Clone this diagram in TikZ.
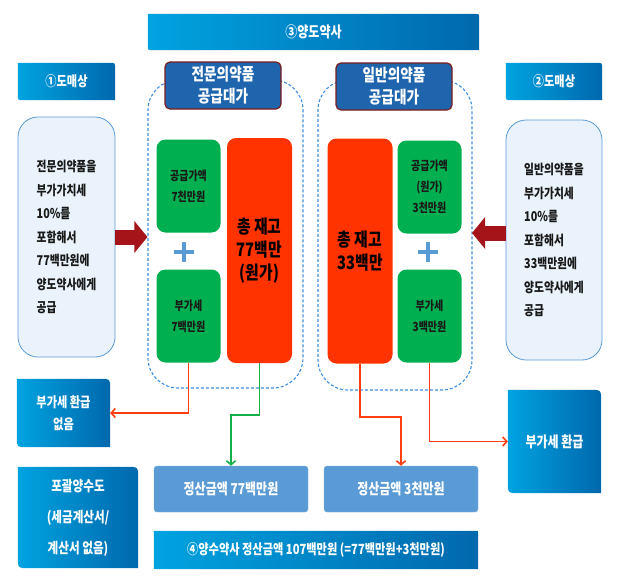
\documentclass[tikz,border=0pt]{standalone}
\usepackage{fontspec}
\setmainfont{Noto Sans CJK KR}[FakeStretch=0.8]
\usepackage{tikz}
\usetikzlibrary{arrows.meta,backgrounds}
\definecolor{gradleft}{RGB}{0, 163, 224}
\definecolor{gradright}{RGB}{0, 104, 173}
\definecolor{hdrblue}{RGB}{31, 101, 174}
\definecolor{hdrred}{RGB}{122, 28, 28}
\definecolor{zoneblue}{RGB}{61, 142, 224}
\definecolor{infofill}{RGB}{234, 242, 251}
\definecolor{infoline}{RGB}{91, 155, 213}
\definecolor{boxgreen}{RGB}{0, 176, 80}
\definecolor{boxred}{RGB}{255, 51, 0}
\definecolor{arrowred}{RGB}{165, 20, 25}
\definecolor{payblue}{RGB}{91, 155, 213}
\definecolor{linered}{RGB}{255, 61, 18}
\definecolor{linegreen}{RGB}{20, 176, 74}

\tikzset{
  gbox/.style={text=white, align=center, inner sep=0pt},
  hdr/.style={rectangle, rounded corners=5pt, draw=hdrred, line width=1.2pt, fill=hdrblue, text=white, font=\bfseries\fontsize{17}{22}\selectfont, align=center, inner sep=0pt, minimum width=116pt, minimum height=47pt},
  zone/.style={rectangle, rounded corners=30pt, draw=zoneblue, line width=1.1pt, dash pattern=on 3pt off 2pt},
  info/.style={rectangle, rounded corners=20pt, draw=infoline, fill=infofill, line width=0.8pt, minimum width=97pt, minimum height=240pt, align=left, text=black!90, font=\bfseries\fontsize{13.5}{23.5}\selectfont},
  price/.style={rectangle, rounded corners=9pt, fill=boxgreen, minimum width=64pt, minimum height=93pt, align=center, text=black!90, font=\bfseries\fontsize{12.5}{21}\selectfont},
  stock/.style={rectangle, rounded corners=9pt, fill=boxred, minimum width=65pt, minimum height=225pt, align=center, font=\bfseries\fontsize{18.5}{23}\selectfont},
  plus/.style={minimum size=20pt, inner sep=0pt},
  plusline/.style={payblue, line width=4pt},
  pay/.style={rectangle, rounded corners=3pt, fill=payblue, draw=payblue!80!white, text=white, minimum width=154pt, minimum height=46pt, font=\bfseries\fontsize{15}{18}\selectfont},
  gshade/.style={left color=gradleft, right color=gradright},
  bigarrow/.style={arrowred, line width=15pt, -{Triangle[length=13pt, width=31pt]}},
  flow/.style={line width=1.6pt, -{Straight Barb[length=4pt, width=9pt]}},
}

\begin{document}
\begin{tikzpicture}[x=1pt, y=-1pt]
  \useasboundingbox (0,0) rectangle (617,576);

  % dashed groups, headers sit on top of them
  \node[zone, minimum width=155pt, minimum height=308pt] (zoneA) at (225.5,234) {};
  \node[zone, minimum width=154pt, minimum height=310pt] (zoneB) at (395,235) {};

  \node[gbox, minimum width=331pt, minimum height=36pt, font=\bfseries\fontsize{15}{18}\selectfont] (seller) at (313.5,32) {③양도약사};
  \node[gbox, minimum width=97pt, minimum height=37pt, font=\bfseries\fontsize{14}{17}\selectfont] (whA) at (66.5,81.5) {①도매상};
  \node[gbox, minimum width=96pt, minimum height=37pt, font=\bfseries\fontsize{14}{17}\selectfont] (whB) at (554,81.5) {②도매상};
  \node[hdr] (hdrA) at (223,85.5) {전문의약품\\공급대가};
  \node[hdr] (hdrB) at (394,86.5) {일반의약품\\공급대가};

  \node[info] (infoA) at (66.5,237) {전문의약품을\\부가가치세\\10\%를\\포함해서\\77백만원에\\양도약사에게\\공급};
  \node[info, minimum width=96pt] (infoB) at (554,240) {일반의약품을\\부가가치세\\10\%를\\포함해서\\33백만원에\\양도약사에게\\공급};

  % inside the groups
  \node[price] (netA) at (188.5,186) {공급가액\\7천만원};
  \node[plus] (plusA) at (184,252) {};
  \node[price] (vatA) at (188.5,316) {부가세\\7백만원};
  \node[stock] (stockA) at (259.5,250.5) {총 재고\\77백만\\(원가)};
  \node[stock] (stockB) at (360,251) {총 재고\\33백만};
  \node[price] (netB) at (429.5,187) {공급가액\\(원가)\\3천만원};
  \node[plus] (plusB) at (428,252) {};
  \node[price] (vatB) at (429.5,316) {부가세\\3백만원};

  % results
  \node[gbox, minimum width=93pt, minimum height=68pt, font=\bfseries\fontsize{14}{22}\selectfont] (novat) at (63.5,413) {부가세 환급\\없음};
  \node[gbox, minimum width=93pt, minimum height=103pt, font=\bfseries\fontsize{15}{18}\selectfont] (refund) at (554.5,441.5) {부가세 환급};
  \node[gbox, minimum width=120pt, minimum height=101pt, font=\bfseries\fontsize{14.5}{31}\selectfont] (bulk) at (78,517.5) {포괄양수도\\(세금계산서/\\계산서 없음)};
  \node[pay] (payA) at (231,489) {정산금액 77백만원};
  \node[pay] (payB) at (401,489) {정산금액 3천만원};
  \node[gbox, minimum width=324pt, minimum height=38pt, font=\bfseries\fontsize{14}{17}\selectfont] (buyer) at (316,550) {④양수약사 정산금액 107백만원 (=77백만원+3천만원)};

  \begin{scope}[on background layer]
    \foreach \n/\r in {seller/5pt, whA/6pt, whB/6pt, novat/10pt, refund/12pt, bulk/12pt, buyer/3pt}
      \shade[gshade] (\n.north west) -- ([xshift=-\r]\n.north east) .. controls (\n.north east) .. ([yshift=-\r]\n.north east) -- (\n.south east) -- ([xshift=\r]\n.south west) .. controls (\n.south west) .. ([yshift=\r]\n.south west) -- cycle;
  \end{scope}

  \draw[plusline] (plusA.north) -- (plusA.south) (plusA.west) -- (plusA.east);
  \draw[plusline] (plusB.north) -- (plusB.south) (plusB.west) -- (plusB.east);

  \coordinate (inB) at (472,233);
  \draw[bigarrow] (infoA.east) -- (infoA.east -| zoneA.west);
  \draw[bigarrow] (infoB.west |- inB) -- (inB);

  \draw[flow, linered] (vatA.south) |- (novat.east);
  \draw[flow, linegreen] (stockA.south) -- ++(0,52) -| (payA.north);
  \draw[flow, linered] (stockB.south) -- ++(0,53) -| (payB.north);
  \draw[flow, linered] (vatB.south) |- (refund.west);
\end{tikzpicture}
\end{document}
